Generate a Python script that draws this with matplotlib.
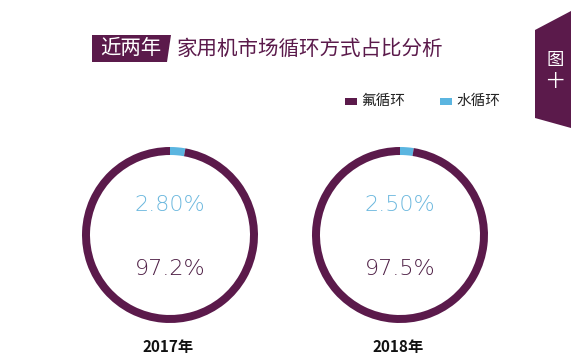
import matplotlib
matplotlib.use("Agg")
import matplotlib.pyplot as plt
from matplotlib.patches import Polygon, Rectangle

plt.rcParams['font.family'] = ['Noto Sans CJK SC', 'DejaVu Sans']

years = ["2017年", "2018年"]
series = ["氟循环", "水循环"]
fluorine = [97.2, 97.5]
water = [2.80, 2.50]
water_labels = ["2.80%", "2.50%"]
fluorine_labels = ["97.2%", "97.5%"]
title_tag = "近两年"
title = "家用机市场循环方式占比分析"
tab_text = "图\n十"

PURPLE = "#5b1a4b"
BLUE = "#5bb5e0"

W, H = 571, 363
fig = plt.figure(figsize=(W / 100, H / 100), dpi=100)
bg = fig.add_axes([0, 0, 1, 1])
bg.set_xlim(0, W)
bg.set_ylim(H, 0)
bg.axis("off")

# title banner
bg.add_patch(Polygon([(92, 35), (171, 35), (167, 62), (92, 62)], closed=True,
                     facecolor=PURPLE, edgecolor="none"))
bg.text(131, 48.5, title_tag, color="white", fontsize=14.7, ha="center", va="center")
bg.text(177, 48.5, title, color=PURPLE, fontsize=14.8, ha="left", va="center")

# right tab
bg.add_patch(Polygon([(535, 30), (571, 11), (571, 128), (535, 118)], closed=True,
                     facecolor=PURPLE, edgecolor="none"))
bg.text(555, 71, tab_text, color="white", fontsize=12.5, ha="center", va="center",
        linespacing=1.25, fontweight="light")

# legend
leg_x = [345, 440]
leg_colors = [PURPLE, BLUE]
for x, name, c in zip(leg_x, series, leg_colors):
    bg.add_patch(Rectangle((x, 97.5), 12, 7, facecolor=c, edgecolor="none"))
    bg.text(x + 16, 101, name, color="#222222", fontsize=10.5, ha="left", va="center")

# donuts
centers = [(170, 235), (400, 235)]
R = 88
for (cx, cy), f, w, wl, fl, yr in zip(centers, fluorine, water, water_labels,
                                      fluorine_labels, years):
    ax = fig.add_axes([(cx - R) / W, (H - cy - R) / H, 2 * R / W, 2 * R / H])
    ax.pie([w, f], colors=[BLUE, PURPLE], startangle=90, counterclock=False,
           wedgeprops=dict(width=8 / R, edgecolor="none"), radius=1)
    ax.set_xlim(-1, 1)
    ax.set_ylim(-1, 1)
    ax.axis("off")
    bg.text(cx, 205, wl, color="#6cb8de", fontsize=16, ha="center", va="center",
            family=["DejaVu Sans"], fontweight="light")
    bg.text(cx, 269, fl, color="#4e1f45", fontsize=16, ha="center", va="center",
            family=["DejaVu Sans"], fontweight="light")
    bg.text(cx - 2, 347, yr, color="#111111", fontsize=11, ha="center", va="center",
            fontweight="bold")

fig.savefig("out.png", dpi=100)
